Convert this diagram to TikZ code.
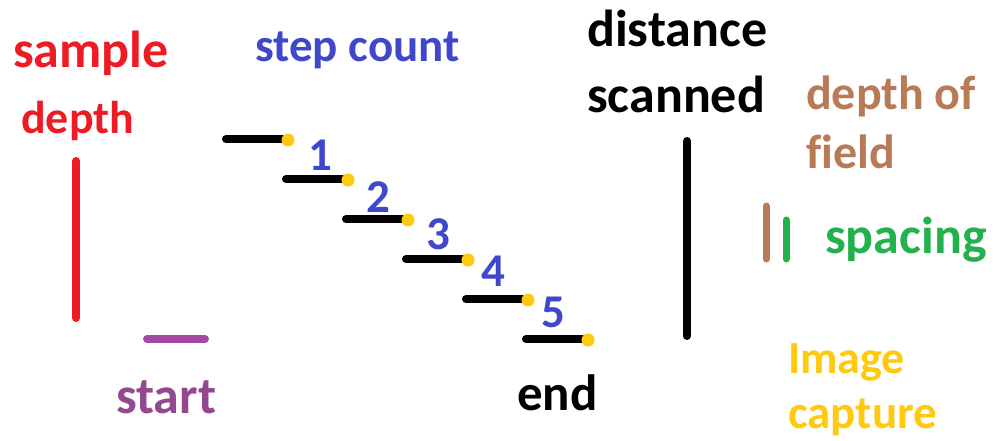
\documentclass[tikz,border=0pt]{standalone}
\usepackage{fontspec}
\setmainfont[Ligatures=NoCommon]{Carlito}
\definecolor{pred}{HTML}{ED1C24}
\definecolor{pblue}{HTML}{3F48CC}
\definecolor{ppurple}{HTML}{A349A4}
\definecolor{ptext}{HTML}{93488F}
\definecolor{pgreen}{HTML}{22B14C}
\definecolor{pbrown}{HTML}{B97A57}
\definecolor{pyellow}{HTML}{FFC90E}
\tikzset{
  lbl/.style={anchor=base west, inner sep=0pt, font=\bfseries\fontsize{#1}{#1}\selectfont},
  lbl/.default=48,
  num/.style={anchor=base, inner sep=0pt, text=pblue, font=\bfseries\fontsize{47}{47}\selectfont},
  bar/.style={line width=8pt, line cap=round},
  capdot/.style={fill=pyellow}
}
\begin{document}
\begin{tikzpicture}[x=1pt,y=-1pt]
\fill[white] (0,0) rectangle (995,441);
\useasboundingbox (0,0) rectangle (995,441);
% texts
\node[lbl=52, text=pred] (sample) at (13,68) {sample};
\node[lbl=46, text=pred] (depth) at (21,133) {depth};
\node[lbl=47, text=pblue] (stepcount) at (255,62) {step count};
\node[lbl=52, text=ptext] (start) at (116,413) {start};
\node[lbl=52] (distance) at (587,47) {distance};
\node[lbl=52] (scanned) at (587,113) {scanned};
\node[lbl=48, text=pbrown] (dof) at (806,110) {depth of};
\node[lbl=48, text=pbrown] (field) at (806,168) {field};
\node[lbl=52, text=pgreen] (spacing) at (825,253) {spacing};
\node[lbl=46, text=pyellow] (image) at (788,373) {Image};
\node[lbl=47, text=pyellow] (capture) at (788,428) {capture};
\node[lbl=51] (end) at (517,410) {end};
% sample depth bar
\draw[bar, pred] (76,161) -- (76,318);
% start bar
\draw[bar, ppurple] (147,339) -- (205,339);
% distance scanned bar
\draw[bar, black] (687,141) -- (687,336);
% depth of field and spacing bars
\draw[line width=7pt, line cap=round, pbrown] (766,206) -- (766,259);
\draw[line width=7pt, line cap=round, pgreen] (786,220) -- (786,259);
% steps
\foreach \i/\x/\y in {0/222/139, 1/282/179, 2/342/219, 3/402/259, 4/462/299, 5/522/339} {
  \coordinate (s\i a) at (\x+4,\y);
  \coordinate (s\i b) at (\x+61,\y);
  \draw[bar, black] (s\i a) -- (s\i b);
  \fill[capdot] (\x+66,\y+1) circle (6.5);
}
\node[num] (n1) at (320,170) {1};
\node[num] (n2) at (378,212) {2};
\node[num] (n3) at (438,249) {3};
\node[num] (n4) at (493,286) {4};
\node[num] (n5) at (553,327) {5};
\end{tikzpicture}
\end{document}
